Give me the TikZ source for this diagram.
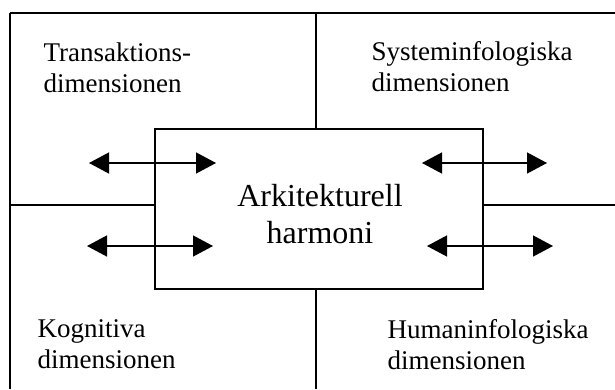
\documentclass[tikz,border=0pt]{standalone}
\usepackage{fontspec}
\setmainfont{Liberation Serif}
\usetikzlibrary{arrows.meta}

\begin{document}
\begin{tikzpicture}[x=1pt, y=-1pt, line width=1.3pt,
  dimtext/.style={align=left, anchor=north west, inner sep=0pt, font=\fontsize{27}{31}\selectfont},
  pil/.style={{Triangle[length=20pt,width=21pt]}-{Triangle[length=20pt,width=21pt]}}]

\useasboundingbox (0,0) rectangle (615,389);

\coordinate (TL) at (10,13);
\coordinate (TR) at (615,13);
\coordinate (BL) at (10,389);
\coordinate (T) at (316,13);
\coordinate (B) at (316,389);
\coordinate (L) at (10,205);
\coordinate (R) at (615,205);

\coordinate (A1) at (89,163);
\coordinate (A2) at (216,163);
\coordinate (B1) at (422,163);
\coordinate (B2) at (547,163);
\coordinate (C1) at (87,246);
\coordinate (C2) at (213,246);
\coordinate (D1) at (427,246);
\coordinate (D2) at (553,246);

\node [draw, minimum width=328pt, minimum height=160pt, inner sep=0pt] (harmoni) at (319,209) {};
\node [align=center, inner sep=0pt, font=\fontsize{32}{37}\selectfont] (harmonitxt) at (320,214.5) {Arkitekturell\\harmoni};

\draw (TL)--(TR);
\draw (TL)--(BL);
\draw (T)--(T |- harmoni.north);
\draw (B)--(B |- harmoni.south);
\draw (L)--(L -| harmoni.west);
\draw (R)--(R -| harmoni.east);

\draw [pil] (A1)--(A2);
\draw [pil] (B1)--(B2);
\draw [pil] (C1)--(C2);
\draw [pil] (D1)--(D2);

\node [dimtext] (trans) at (43,42.6) {Transaktions-\\dimensionen};
\node [dimtext] (system) at (371,40.6) {Systeminfologiska\\dimensionen};
\node [dimtext] (kogn) at (37,318.6) {Kognitiva\\dimensionen};
\node [dimtext] (human) at (387,318.6) {Humaninfologiska\\dimensionen};

\end{tikzpicture}
\end{document}
